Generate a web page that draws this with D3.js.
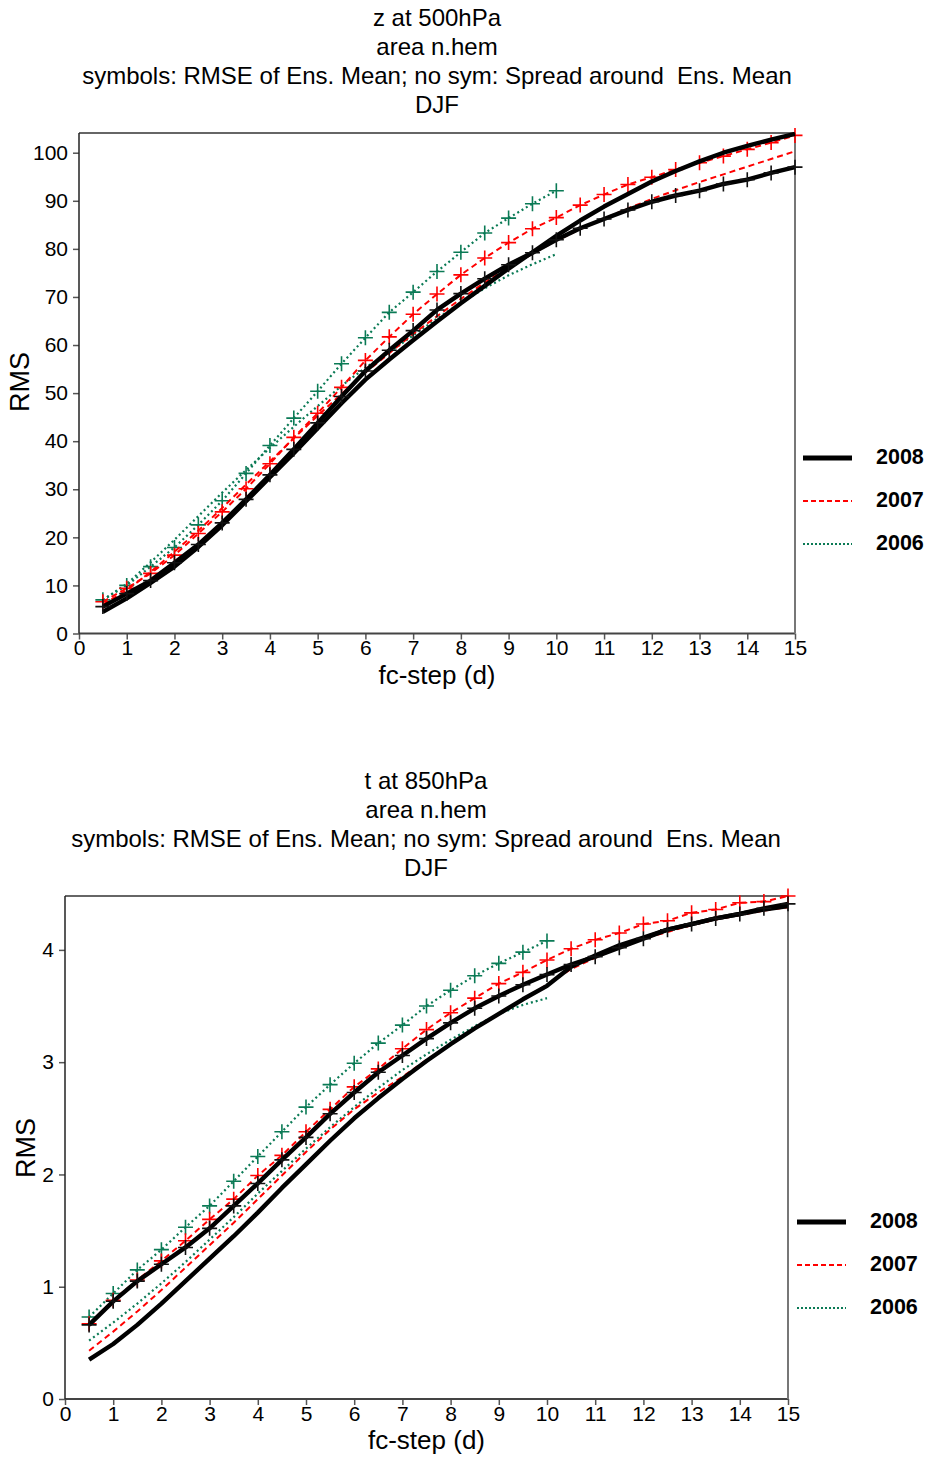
<!DOCTYPE html>
<html>
<head>
<meta charset="utf-8">
<script src="https://cdn.jsdelivr.net/npm/d3@7"></script>
<style>
  html, body { margin: 0; padding: 0; background: #fff; }
  svg { display: block; }
  text { font-family: "Liberation Sans", Arial, sans-serif; fill: #000; white-space: pre; }
</style>
</head>
<body>
<svg id="chart" width="929" height="1458"></svg>
<script>
// ---------------- DATA ----------------
const stepsFull = [0.5,1,1.5,2,2.5,3,3.5,4,4.5,5,5.5,6,6.5,7,7.5,8,8.5,9,9.5,10,10.5,11,11.5,12,12.5,13,13.5,14,14.5,15];
const steps10 = [0.5,1,1.5,2,2.5,3,3.5,4,4.5,5,5.5,6,6.5,7,7.5,8,8.5,9,9.5,10];
const xTicks = [0,1,2,3,4,5,6,7,8,9,10,11,12,13,14,15];
const legendYears = ["2008","2007","2006"];

// z at 500hPa
const zTitle = ["z at 500hPa", "area n.hem", "symbols: RMSE of Ens. Mean; no sym: Spread around  Ens. Mean", "DJF"];
const zTicks = [0,10,20,30,40,50,60,70,80,90,100];
const z2008Rmse   = [5.6,8.3,11.0,14.7,18.5,23.0,27.9,33.0,38.3,43.8,49.3,54.6,58.9,63.0,67.3,70.7,73.8,76.7,79.2,81.9,84.3,86.2,88.1,89.8,91.1,92.1,93.5,94.4,95.8,97.0];
const z2008Spread = [4.5,7.3,10.5,13.9,18.0,22.5,27.5,32.5,37.5,42.7,47.9,52.8,57.0,61.0,64.9,68.7,72.3,75.9,79.3,82.7,85.9,88.8,91.4,94.0,96.2,98.2,100.0,101.4,102.7,103.9];
const z2007Rmse   = [6.6,9.4,12.5,16.3,20.8,25.3,30.1,35.3,40.8,45.8,51.2,56.8,61.7,66.4,70.6,74.6,78.1,81.3,84.2,86.5,89.1,91.3,93.4,94.9,96.5,97.9,99.3,100.7,102.1,103.6];
const z2007Spread = [6.0,9.0,12.8,17.0,21.4,26.1,31.0,35.8,40.6,45.3,49.8,54.3,58.3,62.3,66.0,69.6,73.0,76.1,79.0,81.7,84.1,86.3,88.4,90.4,92.2,93.9,95.5,97.1,98.7,100.3];
const z2006Rmse   = [7.0,10.0,13.9,17.9,22.6,27.6,33.3,39.1,44.8,50.4,56.1,61.5,66.8,71.0,75.3,79.3,83.3,86.4,89.4,92.1];
const z2006Spread = [7.0,10.3,14.8,19.5,24.4,29.3,34.0,38.6,43.0,47.3,51.5,55.3,58.5,62.0,65.5,68.8,71.8,74.5,76.8,78.9];

// t at 850hPa
const tTitle = ["t at 850hPa", "area n.hem", "symbols: RMSE of Ens. Mean; no sym: Spread around  Ens. Mean", "DJF"];
const tTicks = [0,1,2,3,4];
const t2008Rmse   = [0.66,0.87,1.05,1.20,1.35,1.52,1.72,1.92,2.13,2.33,2.54,2.73,2.91,3.06,3.21,3.35,3.48,3.59,3.69,3.78,3.87,3.94,4.02,4.10,4.18,4.23,4.28,4.32,4.37,4.41];
const t2008Spread = [0.35,0.49,0.66,0.85,1.05,1.25,1.45,1.66,1.88,2.09,2.30,2.50,2.68,2.85,3.01,3.16,3.30,3.43,3.56,3.68,3.85,3.95,4.04,4.11,4.18,4.23,4.28,4.32,4.36,4.39];
const t2007Rmse   = [0.67,0.88,1.06,1.23,1.41,1.60,1.78,1.99,2.17,2.38,2.58,2.78,2.94,3.12,3.29,3.44,3.57,3.70,3.80,3.91,4.01,4.09,4.15,4.23,4.26,4.33,4.36,4.42,4.43,4.48];
const t2007Spread = [0.43,0.60,0.78,0.97,1.17,1.37,1.57,1.78,1.99,2.20,2.40,2.58,2.73,2.87,3.02,3.16,3.30,3.43,3.56,3.69,3.83,3.93,4.02,4.10,4.16,4.22,4.27,4.31,4.35,4.38];
const t2006Rmse   = [0.73,0.94,1.15,1.33,1.53,1.72,1.94,2.16,2.38,2.60,2.80,2.99,3.17,3.33,3.50,3.64,3.77,3.88,3.98,4.08];
const t2006Spread = [0.52,0.68,0.85,1.03,1.22,1.42,1.62,1.83,2.03,2.23,2.42,2.60,2.77,2.93,3.07,3.20,3.32,3.43,3.51,3.57];

// ---------------- STYLES ----------------
const styles = {
  "2008": { color: "#000000", width: 4.4, dash: null, legendWidth: 5 },
  "2007": { color: "#ff0000", width: 2, dash: "6,4", legendWidth: 2 },
  "2006": { color: "#0a7a55", width: 2.2, dash: "2,3", legendWidth: 2.2 }
};

const svg = d3.select("#chart");

function drawPanel(cfg) {
  const g = svg.append("g");
  const x = d3.scaleLinear().domain([0, 15]).range([cfg.left, cfg.right]);
  const y = d3.scaleLinear().domain([0, cfg.yMax]).range([cfg.bottom, cfg.top]);

  // titles
  cfg.title.forEach((t, i) => {
    g.append("text")
      .attr("x", cfg.titleX)
      .attr("y", cfg.titleY + i * 29)
      .attr("text-anchor", "middle")
      .attr("font-size", "24px")
      .attr("xml:space", "preserve")
      .text(t);
  });

  // axes
  const xAxis = d3.axisBottom(x).tickValues(xTicks).tickSize(6).tickPadding(1).tickFormat(d3.format("d"));
  const gx = g.append("g").attr("transform", `translate(0,${cfg.bottom})`).call(xAxis);
  gx.select(".domain").remove();
  gx.selectAll("line").attr("stroke", "#555").attr("stroke-width", 1.5);
  gx.selectAll("text").attr("font-size", "21px").attr("font-family", '"Liberation Sans", Arial, sans-serif').attr("fill", "#000");

  const yAxis = d3.axisLeft(y).tickValues(cfg.yTicks).tickSize(6).tickPadding(5).tickFormat(d3.format("d"));
  const gy = g.append("g").attr("transform", `translate(${cfg.left},0)`).call(yAxis);
  gy.select(".domain").remove();
  gy.selectAll("line").attr("stroke", "#555").attr("stroke-width", 1.5);
  gy.selectAll("text").attr("font-size", "21px").attr("font-family", '"Liberation Sans", Arial, sans-serif').attr("fill", "#000");

  // frame
  g.append("line").attr("x1", cfg.left).attr("x2", cfg.right).attr("y1", cfg.top).attr("y2", cfg.top)
    .attr("stroke", "#333").attr("stroke-width", 1.5);
  g.append("line").attr("x1", cfg.left).attr("x2", cfg.right).attr("y1", cfg.bottom).attr("y2", cfg.bottom)
    .attr("stroke", "#444").attr("stroke-width", 2);
  g.append("line").attr("x1", cfg.left).attr("x2", cfg.left).attr("y1", cfg.top).attr("y2", cfg.bottom)
    .attr("stroke", "#222").attr("stroke-width", 1.5);
  g.append("line").attr("x1", cfg.right).attr("x2", cfg.right).attr("y1", cfg.top).attr("y2", cfg.bottom)
    .attr("stroke", "#777").attr("stroke-width", 2);

  // axis labels
  g.append("text")
    .attr("transform", `translate(${cfg.yLabelX},${cfg.yLabelY}) rotate(-90)`)
    .attr("text-anchor", "middle")
    .attr("dominant-baseline", "middle")
    .attr("font-size", "27px")
    .text("RMS");
  g.append("text")
    .attr("x", (cfg.left + cfg.right) / 2)
    .attr("y", cfg.xLabelY)
    .attr("text-anchor", "middle")
    .attr("font-size", "26px")
    .text("fc-step (d)");

  const line = d3.line().x(d => x(d[0])).y(d => y(d[1]));
  const plot = g.append("g");

  // series draw order: 2006, 2007, 2008 (2008 on top)
  const order = ["2006", "2007", "2008"];
  order.forEach(year => {
    const s = cfg.series[year];
    const st = styles[year];
    [s.spread, s.rmse].forEach(vals => {
      const pts = s.steps.map((d, i) => [d, vals[i]]);
      plot.append("path")
        .attr("d", line(pts))
        .attr("fill", "none")
        .attr("stroke", st.color)
        .attr("stroke-width", st.width)
        .attr("stroke-dasharray", st.dash)
        .attr("stroke-linejoin", "round");
    });
    // plus symbols on rmse
    const pts = s.steps.map((d, i) => [d, s.rmse[i]]);
    plot.append("g").selectAll("path").data(pts).join("path")
      .attr("d", d => {
        const p = d3.path();
        const cx = x(d[0]), cy = y(d[1]), h = 7.5;
        p.moveTo(cx - h, cy); p.lineTo(cx + h, cy);
        p.moveTo(cx, cy - h); p.lineTo(cx, cy + h);
        return p.toString();
      })
      .attr("fill", "none")
      .attr("stroke", year === "2008" ? "#111" : st.color)
      .attr("stroke-width", 1.6);
  });

  // legend
  legendYears.forEach((year, i) => {
    const st = styles[year];
    const ly = cfg.legendY + i * 43;
    g.append("line")
      .attr("x1", cfg.legendX).attr("x2", cfg.legendX + 49)
      .attr("y1", ly).attr("y2", ly)
      .attr("stroke", st.color)
      .attr("stroke-width", st.legendWidth)
      .attr("stroke-dasharray", year === "2008" ? null : (year === "2007" ? "5,3" : "2,2"));
    g.append("text")
      .attr("x", cfg.legendX + 73)
      .attr("y", ly)
      .attr("dominant-baseline", "middle")
      .attr("font-size", "21.5px")
      .attr("font-weight", "bold")
      .text(year);
  });
}

drawPanel({
  title: zTitle, titleX: 437, titleY: 26,
  left: 79, right: 795, top: 133, bottom: 633.5, yMax: 104.1, yTicks: zTicks,
  yLabelX: 22, yLabelY: 382, xLabelY: 684,
  legendX: 803, legendY: 458,
  series: {
    "2008": { steps: stepsFull, rmse: z2008Rmse, spread: z2008Spread },
    "2007": { steps: stepsFull, rmse: z2007Rmse, spread: z2007Spread },
    "2006": { steps: steps10, rmse: z2006Rmse, spread: z2006Spread }
  }
});

drawPanel({
  title: tTitle, titleX: 426, titleY: 789,
  left: 65, right: 788, top: 896, bottom: 1399, yMax: 4.48, yTicks: tTicks,
  yLabelX: 28, yLabelY: 1148, xLabelY: 1449,
  legendX: 797, legendY: 1222,
  series: {
    "2008": { steps: stepsFull, rmse: t2008Rmse, spread: t2008Spread },
    "2007": { steps: stepsFull, rmse: t2007Rmse, spread: t2007Spread },
    "2006": { steps: steps10, rmse: t2006Rmse, spread: t2006Spread }
  }
});
</script>
</body>
</html>
